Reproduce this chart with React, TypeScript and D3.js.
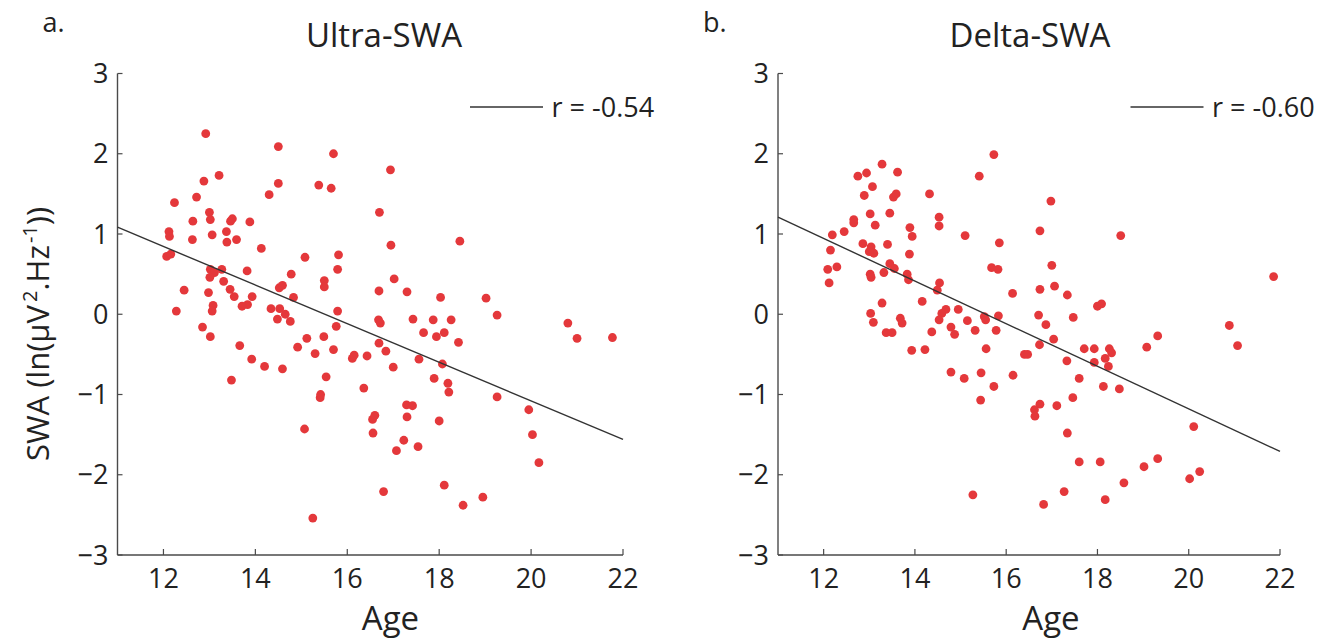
import React from 'react';
import * as d3 from 'd3';

// Ultra-SWA panel (a.)
const ultraAge = [
  12.92, 14.5, 15.7, 13.21, 12.88, 14.5, 15.38, 15.65, 14.3, 12.72, 12.24, 13.0, 13.02, 12.64, 13.46, 13.5,
  13.88, 12.12, 12.13, 13.37, 13.06, 12.63, 13.38, 13.59, 14.13, 12.07, 12.16, 15.08, 15.81, 13.02, 13.11, 13.27,
  13.01, 13.82, 15.79, 14.78, 15.5, 15.5, 13.31, 12.45, 12.98, 13.45, 13.54, 14.52, 14.59, 14.83, 13.93, 13.83,
  13.71, 13.08, 13.06, 12.28, 14.34, 14.53, 15.79,
  14.48, 14.65, 14.76, 12.85, 13.02, 13.66, 14.92, 15.12, 15.49, 15.76, 15.3, 15.7, 13.92, 14.2, 14.59, 13.48,
  15.54, 16.11, 16.15, 16.43, 15.41, 15.42, 16.36, 15.07, 15.25,
  16.94, 16.7, 18.45, 16.95, 17.02, 16.69, 17.3, 18.03, 19.02,
  16.68, 16.72, 17.43, 17.87, 18.26, 19.26, 20.8, 21.0, 21.77, 17.66, 17.94, 18.11, 18.42, 16.69, 16.84, 17.0,
  17.56, 18.07, 17.89, 18.19, 18.21, 19.26, 17.29, 17.42, 17.3, 16.55, 16.6, 16.56, 19.95, 20.03, 20.17, 18.0,
  17.23, 17.54, 17.07, 16.79, 18.11, 18.95, 18.52,
];
const ultraSwa = [
  2.25, 2.09, 2.0, 1.73, 1.66, 1.63, 1.61, 1.57, 1.49, 1.46, 1.39, 1.27, 1.18, 1.16, 1.16, 1.19,
  1.15, 1.03, 0.97, 1.03, 0.99, 0.93, 0.9, 0.93, 0.82, 0.72, 0.75, 0.71, 0.74, 0.56, 0.52, 0.56,
  0.46, 0.54, 0.56, 0.5, 0.42, 0.34, 0.41, 0.3, 0.27, 0.31, 0.22, 0.33, 0.36, 0.21, 0.22, 0.12,
  0.1, 0.11, 0.04, 0.04, 0.07, 0.07, 0.04,
  -0.06, 0.0, -0.09, -0.16, -0.28, -0.39, -0.41, -0.3, -0.28, -0.15, -0.49, -0.44, -0.56, -0.65, -0.68, -0.82,
  -0.78, -0.55, -0.51, -0.52, -1.04, -1.0, -0.92, -1.43, -2.54,
  1.8, 1.27, 0.91, 0.86, 0.44, 0.29, 0.28, 0.21, 0.2,
  -0.07, -0.11, -0.06, -0.07, -0.07, -0.01, -0.11, -0.3, -0.29, -0.23, -0.28, -0.23, -0.35, -0.36, -0.46, -0.66,
  -0.56, -0.62, -0.8, -0.86, -0.97, -1.03, -1.13, -1.14, -1.28, -1.31, -1.26, -1.48, -1.19, -1.5, -1.85, -1.33,
  -1.57, -1.65, -1.7, -2.21, -2.13, -2.28, -2.38,
];

// Delta-SWA panel (b.)
const deltaAge = [
  15.73, 13.28, 12.75, 12.94, 13.62, 15.41, 13.07, 14.32, 12.89, 13.53, 13.59, 13.02, 13.45, 12.66, 12.66, 12.45,
  13.13, 14.53, 14.53, 13.89, 13.94, 15.1, 12.19, 15.85, 12.86, 13.04, 13.1, 13.0, 13.4, 12.15, 13.88, 12.09,
  12.29, 12.12, 13.45, 13.55, 13.02, 13.04, 13.32, 13.83, 13.86, 15.68, 15.82, 14.54, 14.49, 16.14, 13.28, 14.16,
  14.95, 14.68, 14.59, 13.03,
  16.98, 16.74, 18.51, 17.0, 17.06, 16.74, 17.34, 21.86, 18.0, 18.09,
  13.09, 13.37, 13.5, 13.68, 13.72, 13.93, 14.22, 14.37, 14.53, 14.79, 14.87, 15.15, 15.32, 15.52, 15.55, 15.83,
  15.78, 15.56, 14.79, 15.08, 15.45, 15.73, 16.15, 16.4, 16.47, 15.44, 15.27,
  16.71, 17.47, 16.87, 16.73, 17.04, 17.33, 17.71, 17.93, 18.26, 18.31, 18.17, 18.24, 17.93, 19.08, 19.32, 20.89,
  21.07, 17.6, 18.13, 18.48, 17.46, 17.11, 16.74, 16.62, 16.63, 17.34, 20.11, 17.6, 18.06, 19.32, 19.02, 20.02,
  20.24, 18.58, 17.27, 18.17, 16.82,
];
const deltaSwa = [
  1.99, 1.87, 1.72, 1.76, 1.77, 1.72, 1.59, 1.5, 1.48, 1.46, 1.5, 1.25, 1.26, 1.18, 1.14, 1.03,
  1.11, 1.21, 1.1, 1.08, 0.97, 0.98, 0.99, 0.89, 0.88, 0.84, 0.76, 0.78, 0.87, 0.8, 0.75, 0.56,
  0.59, 0.39, 0.63, 0.57, 0.5, 0.46, 0.52, 0.5, 0.43, 0.58, 0.56, 0.39, 0.3, 0.26, 0.14, 0.16,
  0.06, 0.06, 0.01, 0.01,
  1.41, 1.04, 0.98, 0.61, 0.35, 0.31, 0.24, 0.47, 0.1, 0.13,
  -0.1, -0.23, -0.23, -0.05, -0.11, -0.45, -0.44, -0.22, -0.07, -0.16, -0.25, -0.08, -0.2, -0.03, -0.07, -0.02,
  -0.2, -0.43, -0.72, -0.8, -0.73, -0.9, -0.76, -0.5, -0.5, -1.07, -2.25,
  -0.01, -0.04, -0.13, -0.38, -0.31, -0.58, -0.43, -0.43, -0.43, -0.48, -0.55, -0.65, -0.6, -0.41, -0.27, -0.14,
  -0.39, -0.8, -0.9, -0.93, -1.04, -1.14, -1.12, -1.19, -1.27, -1.48, -1.4, -1.84, -1.84, -1.8, -1.9, -2.05,
  -1.96, -2.1, -2.21, -2.31, -2.37,
];

// regression line: fitted SWA at the two ends of the age axis
const fitAges = [11, 22];
const ultraFit = [1.085, -1.56];
const deltaFit = [1.21, -1.71];

const xTicks = [12, 14, 16, 18, 20, 22];
const yTicks = [-3, -2, -1, 0, 1, 2, 3];

const FONT = "'Open Sans', 'Noto Sans', sans-serif";
const TEXT = '#222';
const AXIS = '#4a4a4a';
const DOT = '#e4383b';

function Panel({ left, right, letter, title, r, ages, swa, fit, showYLabel }) {
  const x = d3.scaleLinear().domain([11, 22]).range([left, right]);
  const y = d3.scaleLinear().domain([-3, 3]).range([555, 73.5]);
  const fmt = d3.format('d');
  const line = d3.line().x(d => x(d[0])).y(d => y(d[1]));
  const fitPts = fitAges.map((a, i) => [a, fit[i]]);

  return (
    <g>
      <text x={left - 75} y={32} fontSize={27} fill={TEXT}>{letter}</text>
      <text x={title.cx} y={47} fontSize={33} textAnchor="middle" fill={TEXT}>{title.text}</text>

      {/* axes */}
      <line x1={x(11)} x2={x(22)} y1={y(-3)} y2={y(-3)} stroke={AXIS} strokeWidth={1.4} />
      <line x1={x(11)} x2={x(11)} y1={y(-3)} y2={y(3)} stroke={AXIS} strokeWidth={1.4} />
      {xTicks.map(t => (
        <g key={'x' + t}>
          <line x1={x(t)} x2={x(t)} y1={y(-3)} y2={y(-3) - 6} stroke={AXIS} strokeWidth={1.2} />
          <text x={x(t)} y={588} fontSize={27} textAnchor="middle" fill={TEXT}>{fmt(t)}</text>
        </g>
      ))}
      {yTicks.map(t => (
        <g key={'y' + t}>
          <line x1={x(11)} x2={x(11) + 5} y1={y(t)} y2={y(t)} stroke={AXIS} strokeWidth={1.2} />
          <text x={x(11) - 9} y={y(t)} dy="0.36em" fontSize={27} textAnchor="end" fill={TEXT}>{fmt(t)}</text>
        </g>
      ))}

      {/* points */}
      {ages.map((a, i) => (
        <circle key={i} cx={x(a)} cy={y(swa[i])} r={4.4} fill={DOT} />
      ))}

      {/* fit */}
      <path d={line(fitPts)} fill="none" stroke="#333" strokeWidth={1.4} />

      {/* legend */}
      <line x1={left + 352.5} x2={left + 425.5} y1={107} y2={107} stroke="#333" strokeWidth={1.4} />
      <text x={left + 434} y={117} fontSize={27} fill={TEXT}>{r}</text>

      <text x={left + 273} y={630} fontSize={33} textAnchor="middle" fill={TEXT}>Age</text>

      {showYLabel && (
        <text transform="translate(49,334) rotate(-90)" fontSize={31} textAnchor="middle" fill={TEXT}>
          SWA (ln(μV<tspan dx="3" dy="-12" fontSize={20}>2</tspan>
          <tspan dy="12">.Hz</tspan>
          <tspan dx="2" dy="-12" fontSize={20}>-1</tspan>
          <tspan dy="12">))</tspan>
        </text>
      )}
    </g>
  );
}

export default function App() {
  return (
    <svg width={1334} height={643} style={{ position: 'absolute', left: 0, top: 0, background: '#fff' }}
      fontFamily={FONT}>
      <rect width={1334} height={643} fill="#fff" />
      <Panel left={117.5} right={623} letter="a." title={{ text: 'Ultra-SWA', cx: 384 }} r="r = -0.54"
        ages={ultraAge} swa={ultraSwa} fit={ultraFit} showYLabel />
      <Panel left={778} right={1280} letter="b." title={{ text: 'Delta-SWA', cx: 1030 }} r="r = -0.60"
        ages={deltaAge} swa={deltaSwa} fit={deltaFit} showYLabel={false} />
    </svg>
  );
}
